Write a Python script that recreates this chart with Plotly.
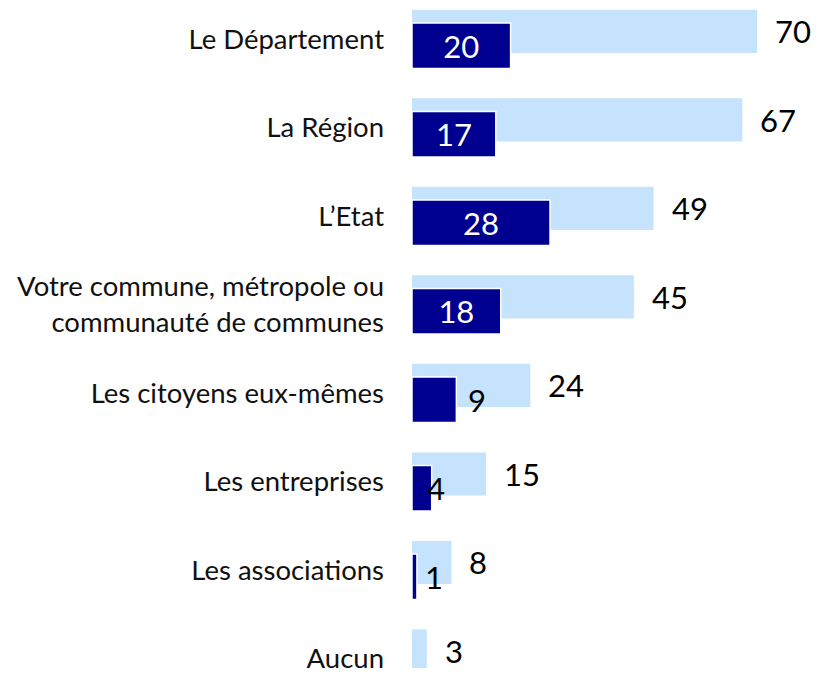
import plotly.graph_objects as go

categories = ["Le Département", "La Région", "L\u2019Etat",
              "Votre commune, métropole ou<br>communauté de communes",
              "Les citoyens eux-mêmes", "Les entreprises", "Les associations", "Aucun"]
total_values = [70, 67, 49, 45, 24, 15, 8, 3]
first_values = [20, 17, 28, 18, 9, 4, 1, None]

# label placement styles (kept separate from data)
dark_inside = [True, True, True, True, False, False, False, False]
dark_label_shift = [0, 0, 0, 0, 10, -7, 6, 0]

LIGHT = "#C5E3FC"
DARK = "#000090"
FONT = "Lato"

pos = list(range(len(categories)))

fig = go.Figure()
fig.add_trace(go.Bar(
    y=pos, x=total_values, orientation="h",
    marker=dict(color=LIGHT, line=dict(width=0)),
    width=0.487, offset=-0.331, hoverinfo="x+y",
))
fig.add_trace(go.Bar(
    y=pos, x=first_values, orientation="h",
    marker=dict(color=DARK, line=dict(color="white", width=1.5)),
    width=0.513, offset=-0.182,
    text=[str(v) if (v is not None and ins) else "" for v, ins in zip(first_values, dark_inside)],
    textposition="inside", insidetextanchor="middle", constraintext="none",
    textangle=0,
    textfont=dict(color="white", size=31, family=FONT),
))

annotations = []
for i, v in enumerate(total_values):
    annotations.append(dict(x=v, y=i - 0.0875, xref="x", yref="y", text=str(v),
                            showarrow=False, xanchor="left", yanchor="middle", xshift=16,
                            font=dict(size=31, color="#000000", family=FONT)))
for i, v in enumerate(first_values):
    if v is not None and not dark_inside[i]:
        annotations.append(dict(x=v, y=i + 0.0745, xref="x", yref="y", text=str(v),
                                showarrow=False, xanchor="left", yanchor="middle",
                                xshift=dark_label_shift[i],
                                font=dict(size=31, color="#000000", family=FONT)))

fig.update_layout(
    width=818, height=674,
    margin=dict(l=412, r=0, t=0, b=0),
    paper_bgcolor="white", plot_bgcolor="white",
    barmode="overlay", showlegend=False,
    annotations=annotations,
    xaxis=dict(range=[0, 82.35], visible=False, fixedrange=True),
    yaxis=dict(range=[7.105, -0.442], tickvals=pos, ticktext=categories,
               showgrid=False, zeroline=False, showline=False, ticks="",
               ticklabelstandoff=27, ticklabeloverflow="allow",
               tickfont=dict(size=27.5, color="#111111", family=FONT)),
    font=dict(family=FONT),
)

fig.write_html("out.html", config={"displayModeBar": False},
               post_script="document.body.style.margin='0';document.body.style.overflow='hidden';")
